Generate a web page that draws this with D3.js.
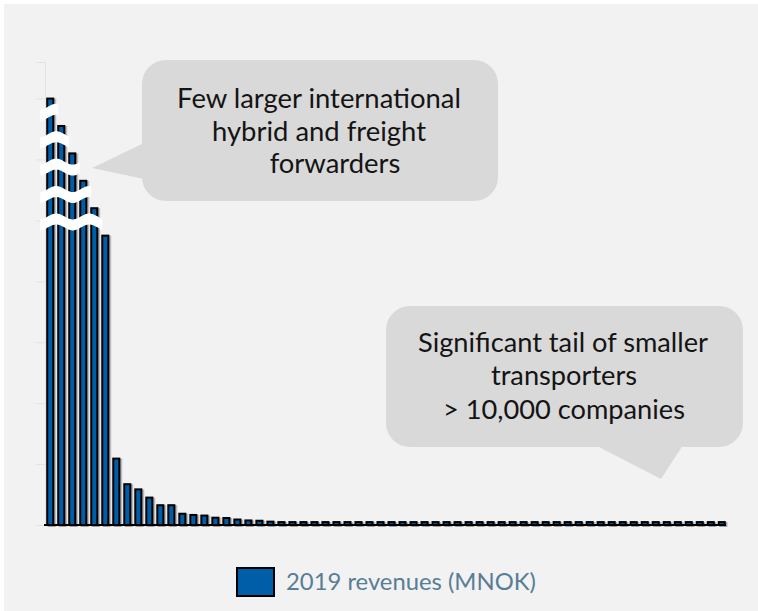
<!DOCTYPE html>
<html>
<head>
<meta charset="utf-8">
<script src="https://cdn.jsdelivr.net/npm/d3@7"></script>
<style>
    body { margin: 0; background: #fff; }
    svg { display: block; }
</style>
</head>
<body>
<div class="canvas"></div>
<script>
// data (MNOK, companies ranked by 2019 revenue)
const revenues = [
    7000, 6550, 6100, 5650, 5200, 4750, 1090, 670, 585, 450,
    325, 325, 185, 165, 155, 120, 115, 90, 75, 70,
    55, 48, 48, 48, 48, 48, 48, 48, 48, 48,
    48, 48, 48, 48, 48, 48, 48, 48, 48, 48,
    48, 48, 48, 48, 48, 48, 48, 48, 48, 48,
    48, 48, 48, 48, 48, 48, 48, 48, 48, 48,
    48, 48
];
const ranks = revenues.map((v, i) => i + 1);
const yTicks = [0, 1000, 2000, 3000, 4000, 5000, 6000, 7000];
const brokenBars = 6;
const seriesName = '2019 revenues (MNOK)';
const bigNote = ['Few larger international', 'hybrid and freight', 'forwarders'];
const tailNote = ['Significant tail of smaller', 'transporters', '> 10,000 companies'];

const dims = { width: 758, height: 611 };
const blue = '#005da8';
const font = 'Lato, "Open Sans", sans-serif';

const svg = d3.select('.canvas')
    .append('svg')
    .attr('width', dims.width)
    .attr('height', dims.height)
;

svg.append('rect')
    .attr('x', 4).attr('y', 4)
    .attr('width', dims.width - 4).attr('height', dims.height - 4)
    .attr('fill', '#f2f2f2')
;

const defs = svg.append('defs');
defs.append('filter')
    .attr('id', 'shadow')
    .attr('x', '-50%').attr('y', '-10%').attr('width', '200%').attr('height', '120%')
  .append('feDropShadow')
    .attr('dx', 1.5).attr('dy', 1)
    .attr('stdDeviation', 0.7)
    .attr('flood-color', '#000')
    .attr('flood-opacity', 0.35)
;

const x = d3.scaleBand()
    .domain(ranks)
    .range([45, 727])
    .paddingInner(0.45)
    .paddingOuter(0.2)
;

const y = d3.scaleLinear()
    .domain([0, 7600])
    .range([525, 62])
;

// faint value axis
const yAxis = svg.append('g')
    .attr('transform', 'translate(45, 0)')
    .call(d3.axisLeft(y).tickValues(yTicks).tickSize(9).tickFormat(''))
;
yAxis.selectAll('path, line').attr('stroke', '#e3e3e3').attr('stroke-width', 1);

// bars
svg.append('g')
    .attr('filter', 'url(#shadow)')
  .selectAll('rect')
    .data(revenues)
    .enter()
  .append('rect')
    .attr('x', (d, i) => x(ranks[i]))
    .attr('y', d => y(d))
    .attr('width', x.bandwidth())
    .attr('height', d => y(0) - y(d))
    .attr('fill', blue)
    .attr('stroke', '#000')
    .attr('stroke-width', 2)
;

// wavy breaks on the largest bars
const wave = (cx, x0, x1, off) => d3.range(x0, x1 + 0.5, 1)
    .map(px => [px, cx + off - 3 * Math.cos(2 * Math.PI * (px - x(ranks[0]) - 9) / 33)]);

const breaks = d3.range(brokenBars - 1).map(k => {
    const cy = (y(revenues[k]) + y(revenues[k + 1])) / 2;
    const x0 = x(ranks[0]) - 7;
    const x1 = x(ranks[k]) + x.bandwidth() + 5;
    return wave(cy, x0, x1, -5.5).concat(wave(cy, x0, x1, 5.5).reverse());
});

svg.append('g')
  .selectAll('path')
    .data(breaks)
    .enter()
  .append('path')
    .attr('d', d => d3.line()(d) + 'Z')
    .attr('fill', '#fff')
;

// category axis baseline
const xAxis = svg.append('g')
    .attr('transform', `translate(0, ${y(0)})`)
    .call(d3.axisBottom(x).tickValues([]).tickSizeOuter(0))
;
xAxis.select('path').attr('stroke', '#000').attr('stroke-width', 2)
    .attr('d', 'M44,0H726');

// callouts
const fitBlock = (sel, target, base) => {
    sel.attr('font-size', base);
    const w = d3.max(sel.nodes(), n => n.getComputedTextLength());
    sel.attr('font-size', base * target / w);
};

const callout = (box, tip, lines, centers, baselines, target) => {
    const g = svg.append('g');
    g.append('rect')
        .attr('x', box.x).attr('y', box.y)
        .attr('width', box.w).attr('height', box.h)
        .attr('rx', 24)
        .attr('fill', '#d9d9d9')
    ;
    g.append('path')
        .attr('d', d3.line()(tip) + 'Z')
        .attr('fill', '#d9d9d9')
    ;
    const t = g.selectAll('text')
        .data(lines)
        .enter()
      .append('text')
        .attr('x', (d, i) => centers[i])
        .attr('y', (d, i) => baselines[i])
        .attr('text-anchor', 'middle')
        .attr('font-family', font)
        .attr('fill', '#141414')
        .text(d => d)
    ;
    fitBlock(t, target, 28);
};

callout({ x: 142, y: 60, w: 356, h: 141 },
    [[144, 143], [92, 168], [144, 179]],
    bigNote, [319, 319, 335], [108, 141, 173], 284);

callout({ x: 386, y: 306, w: 357, h: 141 },
    [[595, 445], [661, 479], [683, 445]],
    tailNote, [563, 564, 564], [352, 385, 419], 290);

// legend
const legend = svg.append('g');
legend.append('rect')
    .attr('x', 237).attr('y', 568)
    .attr('width', 37).attr('height', 28)
    .attr('fill', blue)
    .attr('stroke', '#000')
    .attr('stroke-width', 2)
;
const lt = legend.append('text')
    .attr('x', 286).attr('y', 590)
    .attr('font-family', font)
    .attr('fill', '#587d97')
    .text(seriesName)
;
fitBlock(lt, 250, 26);
</script>
</body>
</html>
